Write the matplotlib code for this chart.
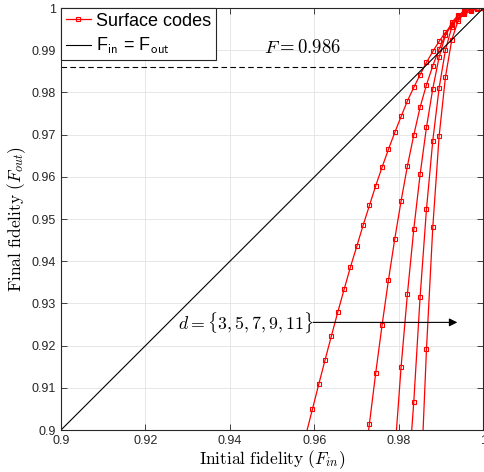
import matplotlib.pyplot as plt

# Final vs initial fidelity for surface codes, d = 3..11
plt.rcParams['mathtext.fontset'] = 'cm'
plt.rcParams['font.family'] = ['Liberation Sans', 'DejaVu Sans']

f_in = [0.9565, 0.958, 0.9595, 0.961, 0.9625, 0.964, 0.9655, 0.967, 0.9685, 0.97,
        0.9715, 0.973, 0.9745, 0.976, 0.9775, 0.979, 0.9805, 0.982, 0.9835, 0.985,
        0.9865, 0.988, 0.9895, 0.991, 0.9925, 0.994, 0.9955, 0.997, 0.9985, 1.0]

# d = 3
f_d3 = [0.893, 0.899, 0.9049, 0.9108, 0.9166, 0.9223, 0.9279, 0.9333, 0.9386, 0.9435,
        0.9485, 0.9532, 0.9579, 0.9623, 0.9665, 0.9705, 0.9743, 0.978, 0.9812, 0.9842,
        0.9871, 0.9897, 0.9921, 0.9942, 0.996, 0.9974, 0.9985, 0.9993, 0.9998, 1.0]
# d = 5 (starts at index 10)
f_d5 = [0.889, 0.9015, 0.9136, 0.9249, 0.9355, 0.9453, 0.9543, 0.9626, 0.9699, 0.9765,
        0.9818, 0.9863, 0.9903, 0.9936, 0.9961, 0.9978, 0.9989, 0.9996, 0.9999, 1.0]
# d = 7 (starts at index 14)
f_d7 = [0.872, 0.8945, 0.915, 0.9323, 0.9476, 0.9606, 0.9717, 0.9809, 0.9884, 0.9936,
        0.9966, 0.9983, 0.9992, 0.9997, 0.9999, 1.0]
# d = 9 (starts at index 17)
f_d9 = [0.886, 0.9067, 0.9316, 0.9523, 0.9686, 0.9811, 0.9901, 0.9955, 0.9982, 0.9993,
        0.9998, 1.0, 1.0]
# d = 11 (starts at index 19)
f_d11 = [0.8833, 0.9191, 0.9481, 0.9697, 0.9837, 0.9925, 0.997, 0.999, 0.9997, 1.0, 1.0]

curves = [f_d3, f_d5, f_d7, f_d9, f_d11]

threshold = 0.986
x_ticks = [0.9, 0.92, 0.94, 0.96, 0.98, 1.0]
x_ticklabels = ['0.9', '0.92', '0.94', '0.96', '0.98', '1']
y_ticks = [0.9, 0.91, 0.92, 0.93, 0.94, 0.95, 0.96, 0.97, 0.98, 0.99, 1.0]
y_ticklabels = ['0.9', '0.91', '0.92', '0.93', '0.94', '0.95', '0.96', '0.97', '0.98', '0.99', '1']

fig = plt.figure(figsize=(4.84, 4.72), dpi=100)
ax = fig.add_axes([61 / 484, 1 - 430 / 472, 422.5 / 484, 422 / 472])

for i, y in enumerate(curves):
    x = f_in[len(f_in) - len(y):]
    ax.plot(x, y, color='red', lw=0.9, marker='s', ms=3.2, mfc='none', mew=0.8,
            label='Surface codes' if i == 0 else None)

ax.plot([0.9, 1.0], [0.9, 1.0], color='black', lw=0.8,
        label=r'F$_{\mathsf{in}}$ = F$_{\mathsf{out}}$')

ax.plot([0.9, threshold], [threshold, threshold], color='black', lw=0.8, ls=(0, (5, 3)))
ax.text(0.9572, 0.9905, r'$F = 0.986$', fontsize=13.5, ha='center', va='center')

ax.annotate('', xy=(0.9938, 0.9255), xytext=(0.9597, 0.9255),
            arrowprops=dict(arrowstyle='-|>', color='black', lw=0.8,
                            mutation_scale=12, shrinkA=0, shrinkB=0))
ax.text(0.9598, 0.9255, r'$d=\{3,5,7,9,11\}$', fontsize=12.8, ha='right', va='center')

ax.set_xlim(0.9, 1.0)
ax.set_ylim(0.9, 1.0)
ax.set_xticks(x_ticks)
ax.set_xticklabels(x_ticklabels)
ax.set_yticks(y_ticks)
ax.set_yticklabels(y_ticklabels)
ax.tick_params(direction='in', top=True, right=True, labelsize=9, length=4,
               width=0.6, colors='#262626')
ax.grid(True, color='#e3e3e3', lw=0.6)
ax.set_axisbelow(True)
for s in ax.spines.values():
    s.set_color('#262626')
    s.set_linewidth(0.8)

ax.set_xlabel(r'$\mathrm{Initial\ fidelity}\ (F_{in})$', fontsize=12.5, labelpad=1)
ax.set_ylabel(r'$\mathrm{Final\ fidelity}\ (F_{out})$', fontsize=12.5, labelpad=3)

leg = ax.legend(loc='upper left', fontsize=13, borderaxespad=0, fancybox=False,
                framealpha=1, edgecolor='#262626', handlelength=1.4,
                handletextpad=0.3, borderpad=0.25, labelspacing=0.35)
leg.get_frame().set_linewidth(0.8)

fig.savefig('out.png', dpi=100)
